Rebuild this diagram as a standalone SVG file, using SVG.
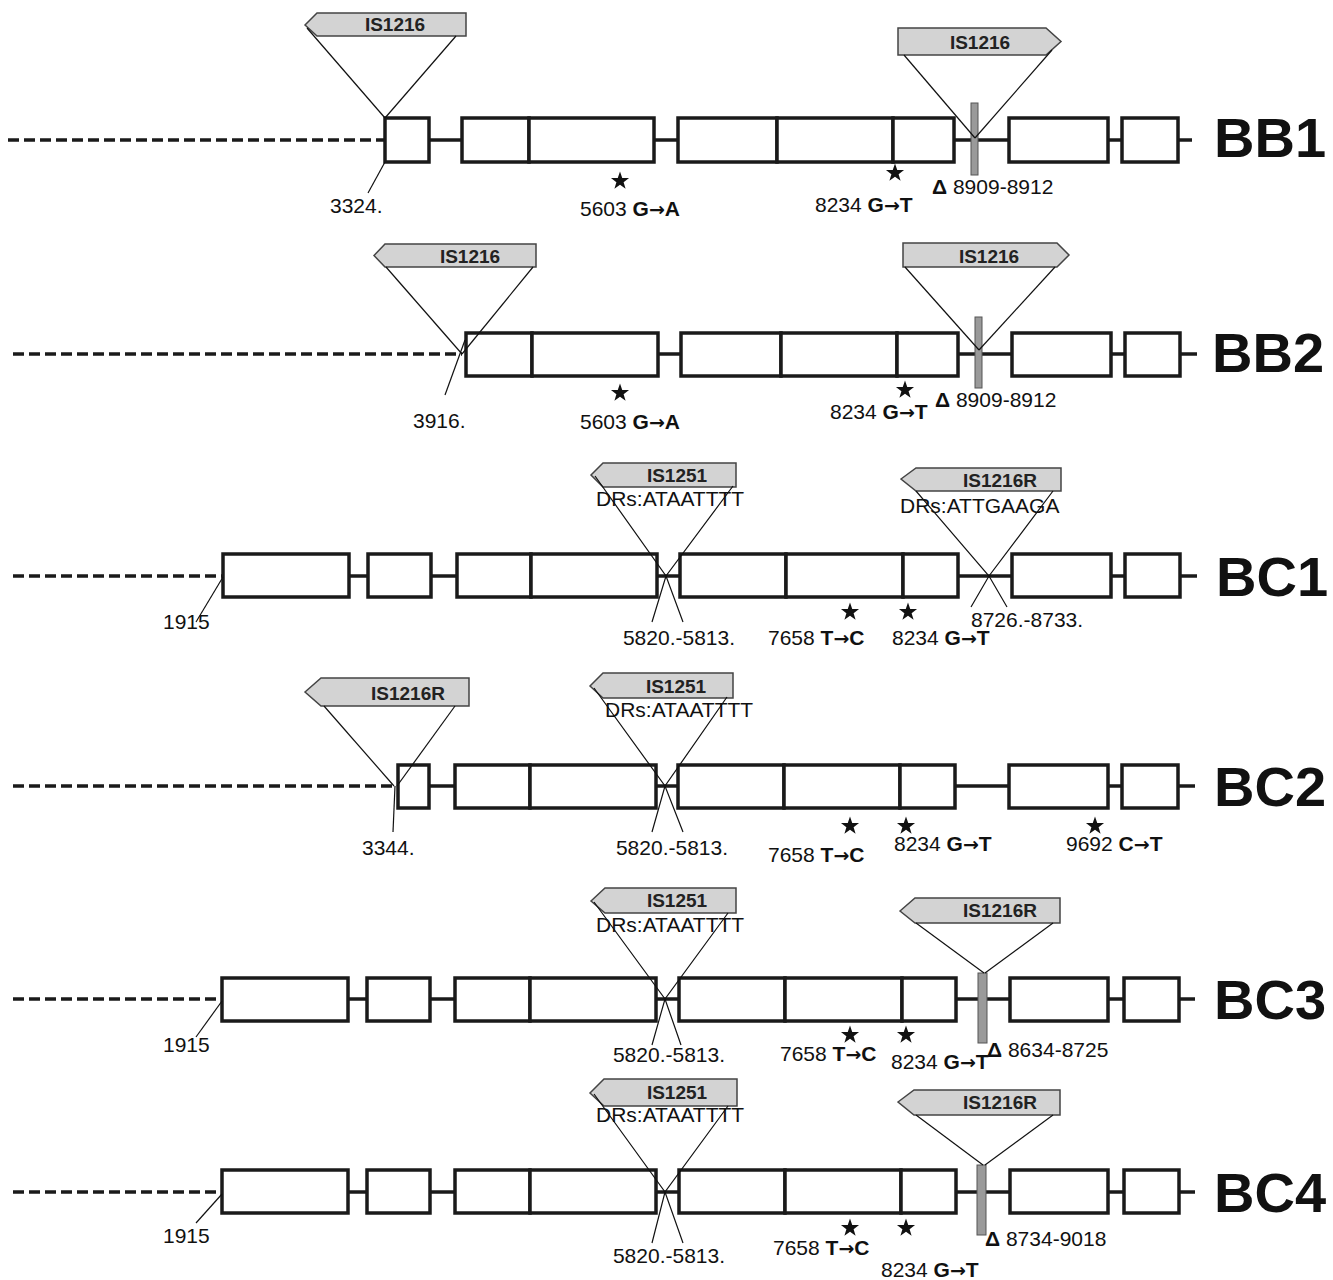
<svg xmlns="http://www.w3.org/2000/svg" xmlns:xlink="http://www.w3.org/1999/xlink" width="1333" height="1280" viewBox="0 0 1333 1280">
<style>
.bx{fill:#fff;stroke:#1a1a1a;stroke-width:3.5}
.ln{stroke:#1a1a1a;stroke-width:3.5;fill:none}
.ds{stroke:#1a1a1a;stroke-width:3.5;stroke-dasharray:11 5;fill:none}
.th{stroke:#111;stroke-width:1.2;fill:none}
.is{fill:#d3d3d3;stroke:#444;stroke-width:1.5}
.gb{fill:#9a9a9a;stroke:#555;stroke-width:1}
.t{font-family:"Liberation Sans",Arial,sans-serif;font-size:21px;fill:#111}
.b{font-weight:bold}
.ar{font-family:"DejaVu Sans",sans-serif;font-weight:bold;font-size:19px}
.ist{font-family:"Liberation Sans",Arial,sans-serif;font-size:19px;font-weight:bold;fill:#222;text-anchor:middle}
.rl{font-family:"Liberation Sans",Arial,sans-serif;font-size:56px;font-weight:bold;fill:#111}
.st{fill:#111}
</style>
<defs>
<path id="star" d="M0,-9.5 L2.24,-3.07 L9.04,-2.94 L3.61,1.17 L5.58,7.69 L0,3.8 L-5.58,7.69 L-3.61,1.17 L-9.04,-2.94 L-2.24,-3.07 Z"/>
</defs>

<!-- ===== BB1 ===== -->
<g id="BB1">
<g id="BB1-backbone">
<line class="ds" x1="8" y1="140" x2="385" y2="140"/>
<line class="ln" x1="429" y1="140" x2="462" y2="140"/>
<line class="ln" x1="654" y1="140" x2="678" y2="140"/>
<line class="ln" x1="954" y1="140" x2="1009" y2="140"/>
<line class="ln" x1="1108" y1="140" x2="1122" y2="140"/>
<line class="ln" x1="1178" y1="140" x2="1192" y2="140"/>
</g>
<g id="BB1-genes">
<rect class="bx" x="385" y="118" width="44" height="44"/>
<rect class="bx" x="462" y="118" width="67" height="44"/>
<rect class="bx" x="529" y="118" width="125" height="44"/>
<rect class="bx" x="678" y="118" width="99" height="44"/>
<rect class="bx" x="777" y="118" width="116" height="44"/>
<rect class="bx" x="893" y="118" width="61" height="44"/>
<rect class="bx" x="1009" y="118" width="99" height="44"/>
<rect class="bx" x="1122" y="118" width="56" height="44"/>
<rect class="gb" x="971" y="103" width="7" height="72"/>
</g>
<g id="BB1-IS-left">
<polygon class="is" points="305,25 317,13 466,13 466,36 317,36"/>
<text class="ist" x="395" y="31">IS1216</text>
</g>
<g id="BB1-IS-right">
<polygon class="is" points="898,28 1046,28 1061,41.5 1046,55 898,55"/>
<text class="ist" x="980" y="49">IS1216</text>
</g>
<g id="BB1-connectors">
<line class="th" x1="307" y1="28" x2="385" y2="118"/>
<line class="th" x1="456" y1="36" x2="385" y2="118"/>
<line class="th" x1="385" y1="162" x2="368" y2="193"/>
<line class="th" x1="904" y1="55" x2="975" y2="138"/>
<line class="th" x1="1052" y1="50" x2="975" y2="138"/>
</g>
<use href="#star" class="st" x="620" y="181"/>
<use href="#star" class="st" x="895" y="173"/>
<text class="t" x="330" y="213">3324.</text>
<text class="t" x="580" y="216">5603 <tspan class="b">G<tspan class="ar">→</tspan>A</tspan></text>
<text class="t" x="815" y="212">8234 <tspan class="b">G<tspan class="ar">→</tspan>T</tspan></text>
<text class="t" x="932" y="194"><tspan class="b">Δ</tspan> 8909-8912</text>
<text class="rl" x="1214" y="157">BB1</text>
</g>

<!-- ===== BB2 ===== -->
<g id="BB2">
<g id="BB2-backbone">
<line class="ds" x1="13" y1="354" x2="462" y2="354"/>
<line class="ln" x1="658" y1="354" x2="681" y2="354"/>
<line class="ln" x1="958" y1="354" x2="1012" y2="354"/>
<line class="ln" x1="1111" y1="354" x2="1125" y2="354"/>
<line class="ln" x1="1180" y1="354" x2="1197" y2="354"/>
</g>
<g id="BB2-genes">
<rect class="bx" x="466" y="333" width="66" height="43"/>
<rect class="bx" x="532" y="333" width="126" height="43"/>
<rect class="bx" x="681" y="333" width="100" height="43"/>
<rect class="bx" x="781" y="333" width="116" height="43"/>
<rect class="bx" x="897" y="333" width="61" height="43"/>
<rect class="bx" x="1012" y="333" width="99" height="43"/>
<rect class="bx" x="1125" y="333" width="55" height="43"/>
<rect class="gb" x="975" y="317" width="7" height="71"/>
</g>
<g id="BB2-IS-left">
<polygon class="is" points="374,255.5 385,244 536,244 536,267 385,267"/>
<text class="ist" x="470" y="263">IS1216</text>
</g>
<g id="BB2-IS-right">
<polygon class="is" points="903,243 1057,243 1069,255 1057,267 903,267"/>
<text class="ist" x="989" y="263">IS1216</text>
</g>
<g id="BB2-connectors">
<line class="th" x1="386" y1="267" x2="462" y2="354"/>
<line class="th" x1="533" y1="267" x2="462" y2="354"/>
<line class="th" x1="465" y1="340" x2="445" y2="395"/>
<line class="th" x1="905" y1="267" x2="979" y2="350"/>
<line class="th" x1="1055" y1="267" x2="979" y2="350"/>
</g>
<use href="#star" class="st" x="620" y="393"/>
<use href="#star" class="st" x="905" y="390"/>
<text class="t" x="413" y="428">3916.</text>
<text class="t" x="580" y="429">5603 <tspan class="b">G<tspan class="ar">→</tspan>A</tspan></text>
<text class="t" x="830" y="419">8234 <tspan class="b">G<tspan class="ar">→</tspan>T</tspan></text>
<text class="t" x="935" y="407"><tspan class="b">Δ</tspan> 8909-8912</text>
<text class="rl" x="1212" y="372">BB2</text>
</g>

<!-- ===== BC1 ===== -->
<g id="BC1">
<g id="BC1-backbone">
<line class="ds" x1="13" y1="576" x2="223" y2="576"/>
<line class="ln" x1="349" y1="576" x2="368" y2="576"/>
<line class="ln" x1="431" y1="576" x2="457" y2="576"/>
<line class="ln" x1="657" y1="576" x2="680" y2="576"/>
<line class="ln" x1="958" y1="576" x2="1012" y2="576"/>
<line class="ln" x1="1111" y1="576" x2="1125" y2="576"/>
<line class="ln" x1="1180" y1="576" x2="1197" y2="576"/>
</g>
<g id="BC1-genes">
<rect class="bx" x="223" y="554" width="126" height="43"/>
<rect class="bx" x="368" y="554" width="63" height="43"/>
<rect class="bx" x="457" y="554" width="74" height="43"/>
<rect class="bx" x="531" y="554" width="126" height="43"/>
<rect class="bx" x="680" y="554" width="106" height="43"/>
<rect class="bx" x="786" y="554" width="117" height="43"/>
<rect class="bx" x="903" y="554" width="55" height="43"/>
<rect class="bx" x="1012" y="554" width="99" height="43"/>
<rect class="bx" x="1125" y="554" width="55" height="43"/>
</g>
<g id="BC1-IS1251">
<polygon class="is" points="591,475 603,463 736,463 736,487 603,487"/>
<text class="ist" x="677" y="482">IS1251</text>
</g>
<g id="BC1-IS1216R">
<polygon class="is" points="901,479 916,468 1061,468 1061,491 916,491"/>
<text class="ist" x="1000" y="487">IS1216R</text>
</g>
<g id="BC1-connectors">
<line class="th" x1="223" y1="577" x2="196" y2="622"/>
<polyline class="th" points="595,476 666,576 683,622"/>
<polyline class="th" points="733,486 666,576 652,622"/>
<polyline class="th" points="916,491 989,576 1007,607"/>
<polyline class="th" points="1053,491 989,576 971,607"/>
</g>
<use href="#star" class="st" x="850" y="612"/>
<use href="#star" class="st" x="908" y="612"/>
<text class="t" x="163" y="629">1915</text>
<text class="t" x="596" y="506">DRs:ATAATTTT</text>
<text class="t" x="900" y="513">DRs:ATTGAAGA</text>
<text class="t" x="679" y="645" text-anchor="middle">5820.-5813.</text>
<text class="t" x="768" y="645">7658 <tspan class="b">T<tspan class="ar">→</tspan>C</tspan></text>
<text class="t" x="892" y="645">8234 <tspan class="b">G<tspan class="ar">→</tspan>T</tspan></text>
<text class="t" x="971" y="627">8726.-8733.</text>
<text class="rl" x="1216" y="596">BC1</text>
</g>

<!-- ===== BC2 ===== -->
<g id="BC2">
<g id="BC2-backbone">
<line class="ds" x1="13" y1="786" x2="395" y2="786"/>
<line class="ln" x1="429" y1="786" x2="455" y2="786"/>
<line class="ln" x1="656" y1="786" x2="678" y2="786"/>
<line class="ln" x1="955" y1="786" x2="1009" y2="786"/>
<line class="ln" x1="1108" y1="786" x2="1122" y2="786"/>
<line class="ln" x1="1178" y1="786" x2="1195" y2="786"/>
</g>
<g id="BC2-genes">
<rect class="bx" x="398" y="765" width="31" height="43"/>
<rect class="bx" x="455" y="765" width="75" height="43"/>
<rect class="bx" x="530" y="765" width="126" height="43"/>
<rect class="bx" x="678" y="765" width="106" height="43"/>
<rect class="bx" x="784" y="765" width="116" height="43"/>
<rect class="bx" x="900" y="765" width="55" height="43"/>
<rect class="bx" x="1009" y="765" width="99" height="43"/>
<rect class="bx" x="1122" y="765" width="56" height="43"/>
</g>
<g id="BC2-IS1216R">
<polygon class="is" points="305,692 321,678 469,678 469,706 321,706"/>
<text class="ist" x="408" y="700">IS1216R</text>
</g>
<g id="BC2-IS1251">
<polygon class="is" points="590,686 603,673 733,673 733,698 603,698"/>
<text class="ist" x="676" y="693">IS1251</text>
</g>
<g id="BC2-connectors">
<line class="th" x1="324" y1="706" x2="394" y2="786"/>
<line class="th" x1="455" y1="706" x2="397" y2="786"/>
<line class="th" x1="395" y1="786" x2="393" y2="832"/>
<polyline class="th" points="594,688 665,786 683,832"/>
<polyline class="th" points="727,697 665,786 652,832"/>
</g>
<use href="#star" class="st" x="850" y="826"/>
<use href="#star" class="st" x="906" y="826"/>
<use href="#star" class="st" x="1095" y="826"/>
<text class="t" x="362" y="855">3344.</text>
<text class="t" x="605" y="717">DRs:ATAATTTT</text>
<text class="t" x="672" y="855" text-anchor="middle">5820.-5813.</text>
<text class="t" x="768" y="862">7658 <tspan class="b">T<tspan class="ar">→</tspan>C</tspan></text>
<text class="t" x="894" y="851">8234 <tspan class="b">G<tspan class="ar">→</tspan>T</tspan></text>
<text class="t" x="1066" y="851">9692 <tspan class="b">C<tspan class="ar">→</tspan>T</tspan></text>
<text class="rl" x="1214" y="806">BC2</text>
</g>

<!-- ===== BC3 ===== -->
<g id="BC3">
<g id="BC3-backbone">
<line class="ds" x1="13" y1="999" x2="222" y2="999"/>
<line class="ln" x1="348" y1="999" x2="367" y2="999"/>
<line class="ln" x1="430" y1="999" x2="455" y2="999"/>
<line class="ln" x1="656" y1="999" x2="679" y2="999"/>
<line class="ln" x1="956" y1="999" x2="1010" y2="999"/>
<line class="ln" x1="1108" y1="999" x2="1124" y2="999"/>
<line class="ln" x1="1179" y1="999" x2="1195" y2="999"/>
</g>
<g id="BC3-genes">
<rect class="bx" x="222" y="978" width="126" height="43"/>
<rect class="bx" x="367" y="978" width="63" height="43"/>
<rect class="bx" x="455" y="978" width="75" height="43"/>
<rect class="bx" x="530" y="978" width="126" height="43"/>
<rect class="bx" x="679" y="978" width="106" height="43"/>
<rect class="bx" x="785" y="978" width="117" height="43"/>
<rect class="bx" x="902" y="978" width="54" height="43"/>
<rect class="bx" x="1010" y="978" width="98" height="43"/>
<rect class="bx" x="1124" y="978" width="55" height="43"/>
<rect class="gb" x="978" y="973" width="9" height="70"/>
</g>
<g id="BC3-IS1251">
<polygon class="is" points="591,901 605,888 736,888 736,913 605,913"/>
<text class="ist" x="677" y="907">IS1251</text>
</g>
<g id="BC3-IS1216R">
<polygon class="is" points="900,911 915,898 1060,898 1060,923 915,923"/>
<text class="ist" x="1000" y="917">IS1216R</text>
</g>
<g id="BC3-connectors">
<line class="th" x1="222" y1="1001" x2="196" y2="1037"/>
<polyline class="th" points="594,902 665,999 681,1045"/>
<polyline class="th" points="728,913 665,999 652,1045"/>
<line class="th" x1="916" y1="923" x2="984" y2="973"/>
<line class="th" x1="1053" y1="923" x2="985" y2="973"/>
</g>
<use href="#star" class="st" x="850" y="1035"/>
<use href="#star" class="st" x="906" y="1035"/>
<text class="t" x="163" y="1052">1915</text>
<text class="t" x="596" y="932">DRs:ATAATTTT</text>
<text class="t" x="669" y="1062" text-anchor="middle">5820.-5813.</text>
<text class="t" x="780" y="1061">7658 <tspan class="b">T<tspan class="ar">→</tspan>C</tspan></text>
<text class="t" x="891" y="1069">8234 <tspan class="b">G<tspan class="ar">→</tspan>T</tspan></text>
<text class="t" x="987" y="1057"><tspan class="b">Δ</tspan> 8634-8725</text>
<text class="rl" x="1214" y="1019">BC3</text>
</g>

<!-- ===== BC4 ===== -->
<g id="BC4">
<g id="BC4-backbone">
<line class="ds" x1="13" y1="1192" x2="222" y2="1192"/>
<line class="ln" x1="348" y1="1192" x2="367" y2="1192"/>
<line class="ln" x1="430" y1="1192" x2="455" y2="1192"/>
<line class="ln" x1="656" y1="1192" x2="679" y2="1192"/>
<line class="ln" x1="956" y1="1192" x2="1010" y2="1192"/>
<line class="ln" x1="1108" y1="1192" x2="1124" y2="1192"/>
<line class="ln" x1="1179" y1="1192" x2="1195" y2="1192"/>
</g>
<g id="BC4-genes">
<rect class="bx" x="222" y="1170" width="126" height="43"/>
<rect class="bx" x="367" y="1170" width="63" height="43"/>
<rect class="bx" x="455" y="1170" width="75" height="43"/>
<rect class="bx" x="530" y="1170" width="126" height="43"/>
<rect class="bx" x="679" y="1170" width="106" height="43"/>
<rect class="bx" x="785" y="1170" width="116" height="43"/>
<rect class="bx" x="901" y="1170" width="55" height="43"/>
<rect class="bx" x="1010" y="1170" width="98" height="43"/>
<rect class="bx" x="1124" y="1170" width="55" height="43"/>
<rect class="gb" x="977" y="1165" width="9" height="70"/>
</g>
<g id="BC4-IS1251">
<polygon class="is" points="590,1093 604,1079 737,1079 737,1106 604,1106"/>
<text class="ist" x="677" y="1099">IS1251</text>
</g>
<g id="BC4-IS1216R">
<polygon class="is" points="898,1102 914,1090 1060,1090 1060,1115 914,1115"/>
<text class="ist" x="1000" y="1109">IS1216R</text>
</g>
<g id="BC4-connectors">
<line class="th" x1="222" y1="1194" x2="196" y2="1223"/>
<polyline class="th" points="594,1094 665,1192 683,1243"/>
<polyline class="th" points="728,1106 665,1192 652,1243"/>
<line class="th" x1="916" y1="1115" x2="983" y2="1165"/>
<line class="th" x1="1053" y1="1115" x2="985" y2="1165"/>
</g>
<use href="#star" class="st" x="850" y="1228"/>
<use href="#star" class="st" x="906" y="1228"/>
<text class="t" x="163" y="1243">1915</text>
<text class="t" x="596" y="1122">DRs:ATAATTTT</text>
<text class="t" x="669" y="1263" text-anchor="middle">5820.-5813.</text>
<text class="t" x="773" y="1255">7658 <tspan class="b">T<tspan class="ar">→</tspan>C</tspan></text>
<text class="t" x="881" y="1277">8234 <tspan class="b">G<tspan class="ar">→</tspan>T</tspan></text>
<text class="t" x="985" y="1246"><tspan class="b">Δ</tspan> 8734-9018</text>
<text class="rl" x="1214" y="1212">BC4</text>
</g>
</svg>
